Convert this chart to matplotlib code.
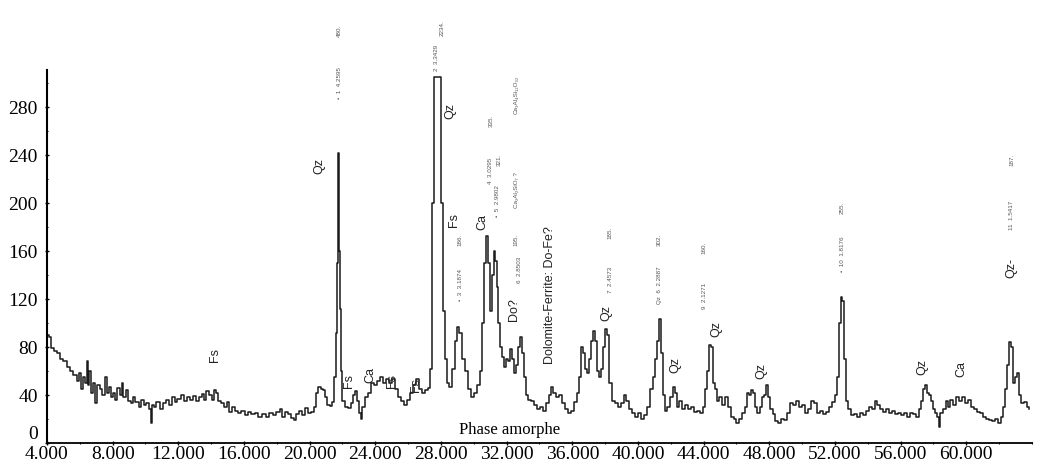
import matplotlib
matplotlib.use('Agg')
import matplotlib.pyplot as plt
from matplotlib.ticker import MultipleLocator

# 2-theta (axis units) and intensity
two_theta = [
    4.00, 4.06, 4.18, 4.30, 4.55, 4.73, 4.91, 5.10, 5.34, 5.52, 5.71, 5.89, 6.01, 6.13, 6.25, 6.38,
    6.44, 6.50, 6.62, 6.74, 6.86, 6.99, 7.11, 7.29, 7.41, 7.60, 7.72, 7.84, 7.96, 8.08, 8.20, 8.39,
    8.51, 8.57, 8.69, 8.88, 9.00, 9.18, 9.30, 9.48, 9.67, 9.79, 9.97, 10.15, 10.28, 10.34, 10.40,
    10.58, 10.76, 10.95, 11.13, 11.31, 11.50, 11.68, 11.86, 12.04, 12.23, 12.41, 12.59, 12.78, 12.96,
    13.14, 13.32, 13.51, 13.63, 13.75, 13.93, 14.12, 14.24, 14.36, 14.48, 14.66, 14.85, 15.03, 15.15,
    15.33, 15.52, 15.70, 15.94, 16.13, 16.31, 16.55, 16.74, 16.98, 17.22, 17.41, 17.65, 17.83, 18.08,
    18.26, 18.38, 18.57, 18.75, 18.93, 19.11, 19.24, 19.42, 19.60, 19.78, 19.97, 20.15, 20.33, 20.45,
    20.58, 20.76, 20.88, 21.00, 21.12, 21.31, 21.43, 21.55, 21.61, 21.67, 21.73, 21.79, 21.86, 21.92,
    22.04, 22.22, 22.40, 22.59, 22.71, 22.83, 22.95, 23.07, 23.13, 23.26, 23.44, 23.62, 23.81, 23.99,
    24.17, 24.35, 24.54, 24.72, 24.90, 25.09, 25.27, 25.45, 25.63, 25.82, 26.00, 26.18, 26.36, 26.55,
    26.73, 26.91, 27.10, 27.28, 27.40, 27.52, 27.58, 27.95, 28.07, 28.19, 28.32, 28.44, 28.56, 28.74,
    28.92, 29.05, 29.17, 29.35, 29.53, 29.72, 29.90, 30.08, 30.27, 30.45, 30.57, 30.69, 30.81, 30.94,
    31.06, 31.18, 31.24, 31.36, 31.42, 31.55, 31.67, 31.79, 31.91, 32.03, 32.16, 32.28, 32.40, 32.52,
    32.64, 32.76, 32.89, 33.01, 33.13, 33.19, 33.37, 33.56, 33.74, 33.92, 34.11, 34.29, 34.47, 34.65,
    34.78, 34.90, 35.08, 35.26, 35.45, 35.63, 35.81, 35.99, 36.18, 36.36, 36.48, 36.60, 36.73, 36.85,
    36.97, 37.09, 37.21, 37.33, 37.46, 37.58, 37.70, 37.82, 37.94, 38.07, 38.19, 38.31, 38.49, 38.67,
    38.86, 39.04, 39.22, 39.35, 39.53, 39.71, 39.90, 40.08, 40.26, 40.44, 40.63, 40.81, 40.99, 41.11,
    41.24, 41.36, 41.48, 41.60, 41.72, 41.85, 42.03, 42.21, 42.33, 42.45, 42.58, 42.76, 42.94, 43.12,
    43.31, 43.49, 43.67, 43.86, 44.04, 44.16, 44.28, 44.40, 44.53, 44.65, 44.77, 44.89, 45.01, 45.20,
    45.38, 45.56, 45.74, 45.93, 46.05, 46.23, 46.41, 46.60, 46.72, 46.84, 46.96, 47.08, 47.21, 47.33,
    47.51, 47.63, 47.75, 47.88, 48.00, 48.12, 48.30, 48.43, 48.61, 48.79, 48.97, 49.16, 49.34, 49.52,
    49.71, 49.89, 50.07, 50.25, 50.44, 50.62, 50.80, 50.99, 51.17, 51.35, 51.53, 51.72, 51.90, 52.08,
    52.20, 52.33, 52.39, 52.51, 52.63, 52.75, 52.87, 53.06, 53.24, 53.42, 53.61, 53.79, 53.97, 54.15,
    54.34, 54.52, 54.64, 54.82, 55.01, 55.19, 55.37, 55.56, 55.74, 55.92, 56.10, 56.29, 56.47, 56.65,
    56.84, 57.02, 57.20, 57.32, 57.44, 57.57, 57.69, 57.81, 57.93, 58.05, 58.18, 58.30, 58.36, 58.48,
    58.66, 58.85, 58.97, 59.09, 59.27, 59.46, 59.64, 59.82, 60.00, 60.19, 60.37, 60.55, 60.74, 60.92,
    61.10, 61.28, 61.47, 61.65, 61.83, 62.02, 62.20, 62.32, 62.44, 62.56, 62.69, 62.81, 62.93, 63.05,
    63.17, 63.30, 63.42, 63.60, 63.78, 63.84]

intensity = [
    80, 90, 88, 79, 77, 75, 70, 68, 63, 60, 57, 52, 58, 45, 55, 50,
    68, 48, 60, 42, 50, 33, 48, 45, 40, 55, 42, 47, 38, 42, 36, 46,
    40, 50, 38, 44, 35, 33, 38, 34, 30, 36, 32, 33, 28, 17, 32,
    30, 34, 28, 33, 36, 32, 38, 34, 37, 40, 35, 38, 36, 39,
    35, 38, 41, 36, 43, 40, 36, 44, 42, 35, 33, 30, 34, 26,
    30, 27, 25, 27, 23, 26, 24, 25, 22, 24, 22, 25, 23, 26,
    28, 22, 26, 24, 21, 19, 24, 27, 23, 29, 25, 26, 30, 42,
    47, 45, 44, 38, 32, 31, 34, 55, 92, 150, 242, 160, 112, 60,
    35, 30, 29, 33, 40, 43, 35, 25, 20, 30, 38, 42, 50, 48,
    52, 55, 50, 53, 50, 53, 45, 38, 35, 32, 36, 42, 48, 53,
    45, 42, 44, 46, 62, 200, 305, 305, 200, 110, 70, 50, 47, 62,
    85, 97, 92, 70, 60, 45, 38, 42, 48, 60, 100, 150, 173, 150,
    110, 140, 160, 152, 130, 100, 80, 72, 63, 70, 68, 78, 70, 58,
    65, 80, 88, 75, 55, 40, 36, 35, 32, 28, 30, 27, 33, 40,
    47, 42, 38, 40, 33, 28, 25, 27, 34, 42, 55, 80, 75, 62,
    58, 70, 85, 93, 85, 60, 55, 62, 80, 95, 90, 50, 35, 33,
    30, 33, 40, 35, 28, 25, 22, 25, 20, 23, 30, 45, 55, 70,
    85, 103, 75, 40, 27, 30, 38, 47, 42, 30, 35, 28, 32, 28,
    30, 26, 27, 25, 30, 45, 60, 82, 80, 50, 45, 35, 38, 32,
    38, 30, 22, 20, 17, 20, 25, 30, 42, 40, 44, 42, 30, 25,
    30, 38, 40, 48, 38, 28, 24, 18, 17, 20, 19, 25, 33, 32,
    35, 30, 32, 25, 28, 35, 33, 25, 27, 24, 26, 30, 34, 40,
    55, 100, 122, 118, 70, 35, 28, 23, 24, 22, 25, 23, 27, 30,
    28, 35, 32, 28, 26, 28, 25, 27, 24, 25, 23, 25, 22, 25,
    24, 22, 28, 35, 45, 48, 42, 40, 35, 28, 25, 22, 13, 25,
    28, 35, 30, 36, 32, 38, 35, 38, 33, 36, 30, 28, 26, 25,
    22, 20, 19, 18, 20, 17, 22, 30, 45, 65, 84, 80, 50, 55,
    58, 40, 33, 34, 30, 28]

x_ticks = [4, 8, 12, 16, 20, 24, 28, 32, 36, 40, 44, 48, 52, 56, 60]
x_labels = ['4.000', '8.000', '12.000', '16.000', '20.000', '24.000', '28.000', '32.000',
            '36.000', '40.000', '44.000', '48.000', '52.000', '56.000', '60.000']
y_ticks = [0, 40, 80, 120, 160, 200, 240, 280]

# phase labels (x, y, text)
phase_x = [14.24, 20.6, 22.4, 23.7, 25.0, 26.5, 28.6, 28.8, 30.5, 32.46, 34.65,
           38.07, 42.3, 44.8, 47.5, 57.3, 59.7, 62.75]
phase_y = [73, 231, 52, 57, 52, 48, 277, 186, 184, 111, 123, 108, 65, 95, 60, 63, 62, 146]
phase_txt = ['Fs', 'Qz', 'Fs', 'Ca', 'Fs', 'Fs', 'Qz', 'Fs', 'Ca', 'Do?',
             'Dolomite-Ferrite: Do-Fe?', 'Qz', 'Qz', 'Qz', 'Qz', 'Qz', 'Ca', 'Qz-']

# small peak-search annotations printed by the instrument
peak_x = [21.79, 21.79, 27.70, 28.07, 29.17, 29.17, 31.42, 31.55, 31.00, 31.06,
          32.58, 32.58, 32.58, 32.76, 38.31, 38.31, 41.30, 41.30, 44.04, 44.04,
          52.45, 52.45, 62.75, 62.75]
peak_y = [300, 344, 321, 346, 132, 169, 202, 236, 227, 269,
          290, 211, 169, 144, 136, 175, 132, 169, 123, 163,
          157, 196, 190, 236]
peak_txt = ['\u2022  1  4.2595', '480.', '2  3.3429', '2234.', '\u2022  3  3.1874', '186.',
            '\u2022  5  2.9802', '321.', '4  3.0295', '335.',
            'Ca\u2083Al\u2084Si\u2081\u2082O\u2083\u2082', 'Ca\u2082Al\u2082SiO\u2087 ?', '195.', '6  2.8503',
            '7  2.4573', '185.', 'Qz  6  2.2887', '302.', '9  2.1271', '160.',
            '\u2022  10  1.8176', '255.', '11  1.5417', '187.']

fig = plt.figure(figsize=(10.44, 4.73), dpi=100)
ax = fig.add_axes([0.045, 0.0634, 0.9435, 0.7886])

ax.plot(two_theta, intensity, drawstyle='steps-mid', color='#1a1a1a', lw=1.1)

ax.set_xlim(4, 64)
ax.set_ylim(0, 311)
ax.spines['top'].set_visible(False)
ax.spines['right'].set_visible(False)
ax.spines['left'].set_linewidth(1.5)
ax.spines['bottom'].set_linewidth(1.3)

ax.set_xticks(x_ticks)
ax.set_xticklabels(x_labels)
ax.set_yticks(y_ticks)
ax.xaxis.set_minor_locator(MultipleLocator(2))
ax.yaxis.set_minor_locator(MultipleLocator(20))
ax.tick_params(axis='both', which='major', length=3, width=1, direction='inout',
               labelsize=14)
ax.tick_params(axis='x', which='major', pad=1)
ax.tick_params(axis='y', which='major', pad=5)
ax.tick_params(axis='both', which='minor', length=2, width=0.8, direction='inout')
for lab in ax.get_xticklabels() + ax.get_yticklabels():
    lab.set_family('Liberation Serif')
# the zero label sits a little higher in the original scan
ax.get_yticklabels()[0].set_va('bottom')

for x, y, t in zip(phase_x, phase_y, phase_txt):
    ax.text(x, y, t, rotation=90, ha='center', va='center', fontsize=9,
            family=['Liberation Sans', 'DejaVu Sans'], color='#222222')

for x, y, t in zip(peak_x, peak_y, peak_txt):
    ax.text(x, y, t, rotation=90, ha='center', va='center', fontsize=4.5,
            family=['Liberation Sans', 'DejaVu Sans'], color='#555555', clip_on=False)

ax.text(32.15, 10.5, 'Phase amorphe', ha='center', va='center', fontsize=12,
        family='Liberation Serif', zorder=5,
        bbox=dict(facecolor='white', edgecolor='none', pad=2))

fig.savefig('out.png', dpi=100, facecolor='white')
